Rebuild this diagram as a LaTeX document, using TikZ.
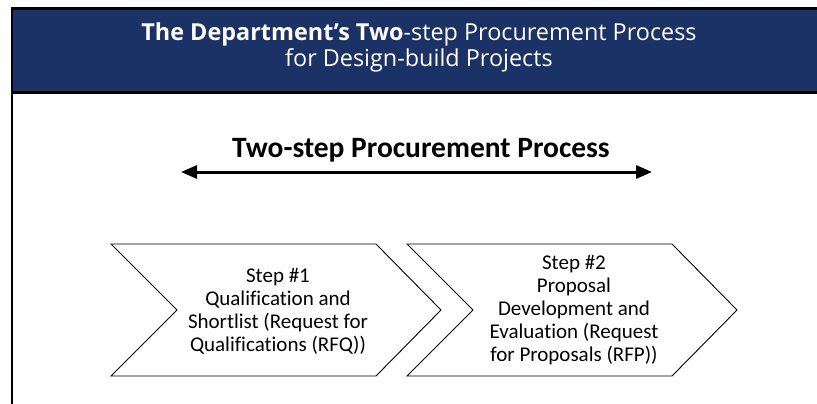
\documentclass[tikz,border=0pt]{standalone}
\usepackage{fontspec}
\setmainfont{Carlito}[Ligatures={TeX,NoCommon}]
\newfontfamily\headfont{Open Sans}
\usepackage{tikz}
\usetikzlibrary{arrows.meta, positioning}
\definecolor{headblue}{RGB}{27,50,102}

\begin{document}
\begin{tikzpicture}[x=1pt, y=-1pt, chevron/.style={draw, line width=0.9pt}, steptext/.style={align=center, font=\fontsize{21}{23}\selectfont}]
\useasboundingbox (0,0) rectangle (817,404);

% Header bar
\fill[headblue] (12,8.5) rectangle (817,92);
\draw[line width=2.5pt] (11,8.5) -- (817,8.5);
\draw[line width=3pt] (12,92.5) -- (817,92.5);
\draw[line width=2pt] (12,7.5) -- (12,404);
\node[text=white, align=center, font=\headfont\fontsize{23.4}{26}\selectfont] (header) at (419,47)
    {\textbf{The Department’s Two}-step Procurement Process\\for Design-build Projects};

% Span arrow
\node[font=\bfseries\fontsize{29.5}{32}\selectfont] (span) at (421,150) {Two-step Procurement Process};
\coordinate (spanL) at (181,172);
\coordinate (spanR) at (652,172);
\draw[line width=3pt, {Triangle[length=16pt, width=13pt]}-{Triangle[length=16pt, width=13pt]}] (spanL) -- (spanR);

% Steps
\draw[chevron] (111,244) -- (376,244) -- (441,310) -- (376,376) -- (111,376) -- (177,310) -- cycle;
\draw[chevron] (407,244) -- (672,244) -- (737,310) -- (672,376) -- (407,376) -- (473,310) -- cycle;
\node[steptext] (step1) at (278,311) {Step \#1\\Qualification and\\Shortlist (Request for\\Qualifications (RFQ))};
\node[steptext] (step2) at (574,310) {Step \#2\\Proposal\\Development and\\Evaluation (Request\\for Proposals (RFP))};
\end{tikzpicture}
\end{document}
